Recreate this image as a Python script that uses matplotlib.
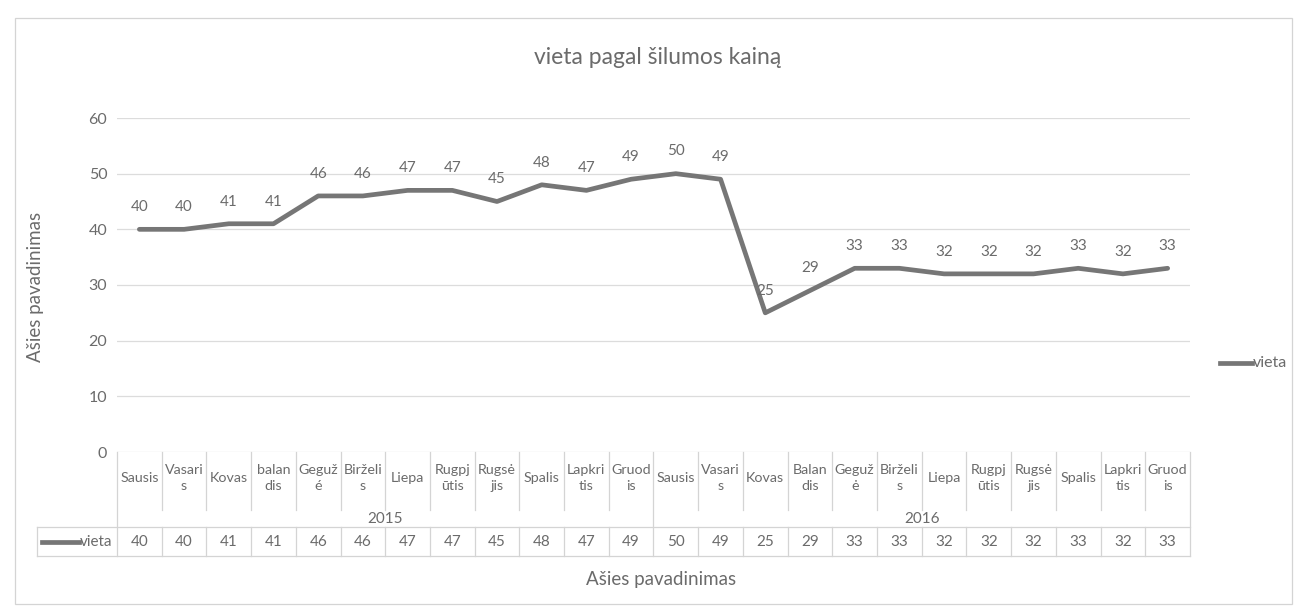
import matplotlib
matplotlib.use('Agg')
import matplotlib.pyplot as plt
from matplotlib.patches import Rectangle
from matplotlib.lines import Line2D

plt.rcParams['font.family'] = ['Lato', 'DejaVu Sans']

# ---- data ----
title = 'vieta pagal šilumos kainą'
series_name = 'vieta'
axis_title = 'Ašies pavadinimas'
years = ['2015', '2016']
months_2015 = ['Sausis', 'Vasari\ns', 'Kovas', 'balan\ndis', 'Geguž\né', 'Birželi\ns',
               'Liepa', 'Rugpj\nūtis', 'Rugsė\njis', 'Spalis', 'Lapkri\ntis', 'Gruod\nis']
months_2016 = ['Sausis', 'Vasari\ns', 'Kovas', 'Balan\ndis', 'Geguž\nė', 'Birželi\ns',
               'Liepa', 'Rugpj\nūtis', 'Rugsė\njis', 'Spalis', 'Lapkri\ntis', 'Gruod\nis']
values = [40, 40, 41, 41, 46, 46, 47, 47, 45, 48, 47, 49,
          50, 49, 25, 29, 33, 33, 32, 32, 32, 33, 32, 33]
y_ticks = [0, 10, 20, 30, 40, 50, 60]

# ---- styling ----
W, H = 1295, 608
TXT = '#6b6b6b'
LINE = '#767676'
GRID = '#dcdcdc'
BORDER = '#d4d4d4'

fig = plt.figure(figsize=(W / 100, H / 100), dpi=100)
fig.patch.set_facecolor('white')


def fx(px):
    return px / W


def fy(py):
    return 1 - py / H


x0, x1 = 117, 1190
ytop, ybot = 118, 452
ax = fig.add_axes([fx(x0), fy(ybot), (x1 - x0) / W, (ybot - ytop) / H])

months = months_2015 + months_2016
n = len(values)
xs = list(range(n))

ax.plot(xs, values, color=LINE, lw=3.4, solid_capstyle='round', zorder=3)
for x, v in zip(xs, values):
    ax.annotate(str(v), (x, v), xytext=(0, 16), textcoords='offset points',
                ha='center', va='center', fontsize=11, color=TXT)

ax.set_xlim(-0.5, n - 0.5)
ax.set_ylim(0, 60)
ax.set_yticks(y_ticks)
ax.set_xticks([])
ax.tick_params(axis='y', length=0, pad=7, labelsize=11.5, labelcolor=TXT)
for s in ax.spines.values():
    s.set_visible(False)
ax.yaxis.grid(True, color=GRID, lw=0.9)
ax.set_axisbelow(True)


# ---- data table below the axis ----
def to_ax_y(py):
    return (ybot - py) / (ybot - ytop)


tr = ax.get_xaxis_transform()
y_month = to_ax_y(478)
y_year = to_ax_y(519)
y_val = to_ax_y(542)
for x, m in zip(xs, months):
    ax.text(x, y_month, m, transform=tr, ha='center', va='center', ma='center',
            fontsize=10.3, color=TXT, linespacing=1.5, clip_on=False)
for x, v in zip(xs, values):
    ax.text(x, y_val, str(v), transform=tr, ha='center', va='center',
            fontsize=11, color=TXT, clip_on=False)
for i, yr in enumerate(years):
    ax.text(i * 12 + 5.5, y_year, yr, transform=tr, ha='center', va='center',
            fontsize=11, color=TXT, clip_on=False)


def vline(xd, p_top, p_bot):
    ax.add_line(Line2D([xd, xd], [to_ax_y(p_top), to_ax_y(p_bot)], transform=tr,
                       color=BORDER, lw=0.9, clip_on=False))


for b in range(n + 1):
    xb = b - 0.5
    if b in (0, 12, n):
        vline(xb, 452, 556)
    else:
        vline(xb, 452, 510)
        vline(xb, 527, 556)

# horizontal table lines (figure coords)
for py in (527, 556):
    fig.add_artist(Line2D([fx(37), fx(x1)], [fy(py), fy(py)], color=BORDER, lw=0.9))
fig.add_artist(Line2D([fx(37), fx(37)], [fy(527), fy(556)], color=BORDER, lw=0.9))

# legend key in table header
fig.add_artist(Line2D([fx(42), fx(79)], [fy(542), fy(542)], color=LINE, lw=3.4))
fig.text(fx(80), fy(542), series_name, ha='left', va='center', fontsize=11, color=TXT)

# right-side legend
fig.add_artist(Line2D([fx(1220), fx(1252)], [fy(363), fy(363)], color=LINE, lw=3.4))
fig.text(fx(1253), fy(363), series_name, ha='left', va='center', fontsize=11.5, color=TXT)

# titles
fig.text(fx(658), fy(58), title, ha='center', va='center', fontsize=16.5, color=TXT)
fig.text(fx(661), fy(579), axis_title, ha='center', va='center', fontsize=13.5, color=TXT)
fig.text(fx(36), fy(287), axis_title, ha='center', va='center', rotation=90,
         fontsize=13.5, color=TXT)

# outer chart border
fig.add_artist(Rectangle((fx(15), fy(604)), fx(1292) - fx(15), fy(18) - fy(604),
                         fill=False, edgecolor=BORDER, lw=0.9))

fig.savefig('out.png', dpi=100, facecolor='white')
